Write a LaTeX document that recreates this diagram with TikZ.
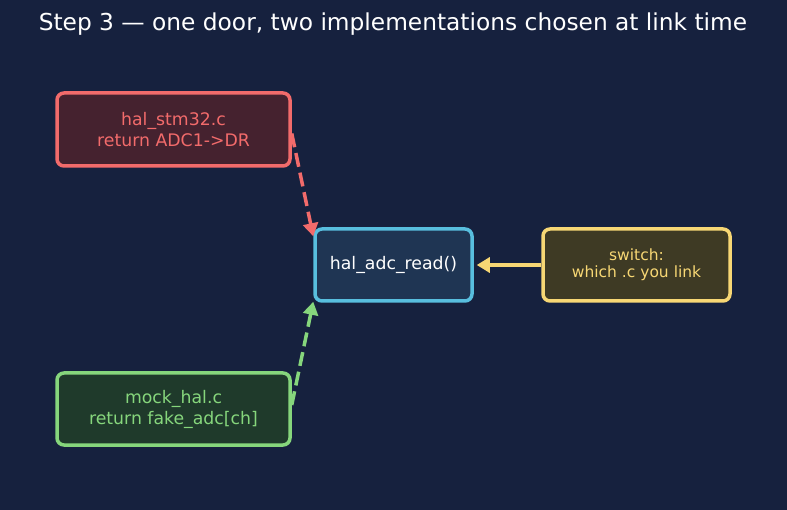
\documentclass[tikz,border=0pt]{standalone}
\usepackage{fontspec}
\setmainfont{DejaVu Sans}
\usetikzlibrary{arrows.meta}
\definecolor{bg}{HTML}{16213E}
\definecolor{redS}{HTML}{F26B6B}
\definecolor{redF}{HTML}{45222F}
\definecolor{bluS}{HTML}{58BEDE}
\definecolor{bluF}{HTML}{1F3553}
\definecolor{yelS}{HTML}{F7D774}
\definecolor{yelF}{HTML}{3E3A24}
\definecolor{grnS}{HTML}{86D67C}
\definecolor{grnF}{HTML}{1F3A2B}
\tikzset{
  box/.style={rectangle, rounded corners=7pt, line width=3.5pt, align=center, inner sep=0pt},
  conn/.style={line width=3.5pt, -{Triangle[length=13pt,width=15pt]}},
  dashconn/.style={conn, dash pattern=on 14pt off 6pt},
}
\begin{document}
\begin{tikzpicture}[x=1pt,y=-1pt]
\fill[bg] (0,0) rectangle (787,510);
\useasboundingbox (0,0) rectangle (787,510);
\node[text=white, font=\fontsize{23.3}{28}\selectfont] (title) at (393,24) {Step 3 — one door, two implementations chosen at link time};
\node[box, draw=redS, fill=redF, text=redS, minimum width=233pt, minimum height=73pt, font=\fontsize{17.3}{21}\selectfont] (stm) at (173.5,129.5) {hal\_stm32.c\\return ADC1->DR};
\node[box, draw=bluS, fill=bluF, text=white, minimum width=157pt, minimum height=72pt, font=\fontsize{17.3}{21}\selectfont] (hal) at (393.5,265) {hal\_adc\_read()};
\node[box, draw=yelS, fill=yelF, text=yelS, minimum width=187pt, minimum height=72pt, font=\fontsize{15.5}{17}\selectfont] (sw) at (636.5,265) {switch:\\which .c you link};
\node[box, draw=grnS, fill=grnF, text=grnS, minimum width=233pt, minimum height=72pt, font=\fontsize{17.3}{21}\selectfont] (mock) at (173.5,409) {mock\_hal.c\\return fake\_adc[ch]};
\draw[dashconn, redS] ([yshift=-4pt]stm.east) -- ([yshift=-9pt]hal.north west);
\draw[dashconn, grnS] ([yshift=4pt]mock.east) -- ([yshift=1pt]hal.south west);
\draw[conn, yelS] (sw.west) -- ([xshift=3pt]hal.east);
\end{tikzpicture}
\end{document}
